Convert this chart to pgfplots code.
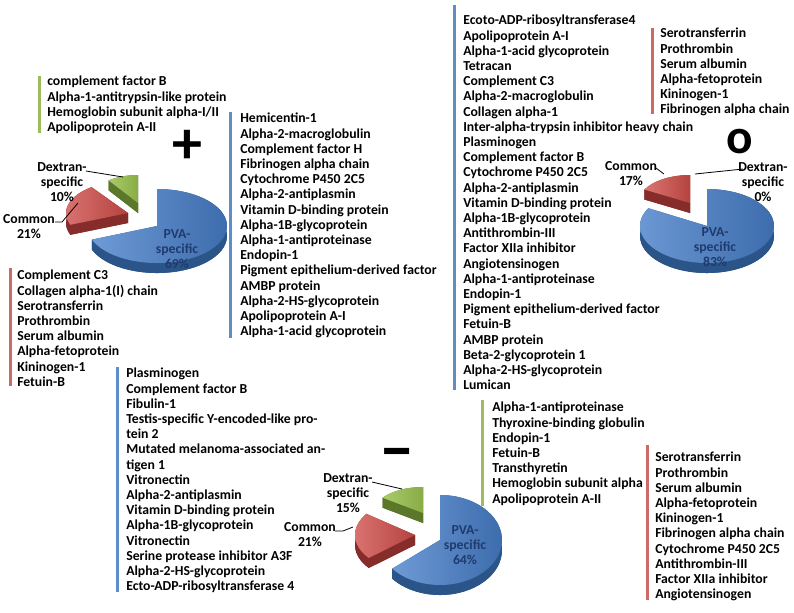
\documentclass[border=0pt]{standalone}
\usepackage{pgfplots}
\pgfplotsset{compat=1.18}
\usepackage{fontspec}
\setmainfont{Carlito}
\definecolor{blueL}{HTML}{6E9BD6}
\definecolor{blueR}{HTML}{3A69AA}
\definecolor{blueS}{HTML}{2B5488}
\definecolor{redL}{HTML}{DC7673}
\definecolor{redR}{HTML}{B5433F}
\definecolor{redS}{HTML}{862D2B}
\definecolor{greenL}{HTML}{AACB6A}
\definecolor{greenR}{HTML}{88AC46}
\definecolor{greenS}{HTML}{5A772A}
\definecolor{barblue}{HTML}{5F8DC8}
\definecolor{barred}{HTML}{CD6A67}
\definecolor{bargreen}{HTML}{9DBD5C}
\definecolor{pvatext}{HTML}{1F3B6E}
\newcommand{\lf}{\fontsize{10.3}{11.4}\selectfont\bfseries}
% cx, cy (downwards), rx, ry, a1, a2, colour prefix
\newcommand{\slice}[7]{%
 \fill[#7S] (axis cs:{#1+#3*cos(#5)},{-#2-10+#4*sin(#5)}) arc[start angle=#5,end angle=#6,x radius=#3,y radius=#4] -- (axis cs:#1,{-#2-10}) -- cycle;
 \fill[#7S] (axis cs:#1,-#2) -- (axis cs:{#1+#3*cos(#5)},{-#2+#4*sin(#5)}) -- (axis cs:{#1+#3*cos(#5)},{-#2-10+#4*sin(#5)}) -- (axis cs:#1,{-#2-10}) -- cycle;
 \fill[#7S] (axis cs:#1,-#2) -- (axis cs:{#1+#3*cos(#6)},{-#2+#4*sin(#6)}) -- (axis cs:{#1+#3*cos(#6)},{-#2-10+#4*sin(#6)}) -- (axis cs:#1,{-#2-10}) -- cycle;
 \fill[#7S] (axis cs:{#1+#3*cos(#5)},{-#2+#4*sin(#5)}) arc[start angle=#5,end angle=#6,x radius=#3,y radius=#4] -- (axis cs:{#1+#3*cos(#6)},{-#2-10+#4*sin(#6)}) arc[start angle=#6,end angle=#5,x radius=#3,y radius=#4] -- cycle;
 \path[left color=#7L,right color=#7R] (axis cs:{#1+#3*cos(#5)},{-#2+#4*sin(#5)}) arc[start angle=#5,end angle=#6,x radius=#3,y radius=#4] -- (axis cs:#1,-#2) -- cycle;
}
\begin{document}
\begin{tikzpicture}[x=0.75pt,y=0.75pt]
\useasboundingbox (0,0) rectangle (794,-612);
\begin{axis}[at={(0,0)},anchor=north west,x=0.75pt,y=0.75pt,
  xmin=0,xmax=794,ymin=-612,ymax=0,hide axis,clip=false,disabledatascaling]
% ---------- list bars ----------
\addplot[bargreen,line width=2.25pt] coordinates {(39,-76) (39,-133)};
\addplot[barblue,line width=2.25pt] coordinates {(230,-112) (230,-338)};
\addplot[barblue,line width=2.25pt] coordinates {(454,-5) (454,-390)};
\addplot[barred,line width=2.25pt] coordinates {(10,-268) (10,-386)};
\addplot[barred,line width=2.25pt] coordinates {(652,-28) (652,-114)};
\addplot[barblue,line width=2.25pt] coordinates {(117,-367) (117,-592)};
\addplot[bargreen,line width=2.25pt] coordinates {(482,-400) (482,-506)};
\addplot[barred,line width=2.25pt] coordinates {(647,-445) (647,-600)};
% ---------- lists ----------
\node[anchor=north west,inner sep=0,align=left,font=\lf] at (axis cs:47,-76) {complement factor B\\Alpha-1-antitrypsin-like protein\\Hemoglobin subunit alpha-I/II\\Apolipoprotein A-II};
\node[anchor=north west,inner sep=0,align=left,font=\lf] at (axis cs:240,-113) {Hemicentin-1\\Alpha-2-macroglobulin\\Complement factor H\\Fibrinogen alpha chain\\Cytochrome P450 2C5\\Alpha-2-antiplasmin\\Vitamin D-binding protein\\Alpha-1B-glycoprotein\\Alpha-1-antiproteinase\\Endopin-1\\Pigment epithelium-derived factor\\AMBP protein\\Alpha-2-HS-glycoprotein\\Apolipoprotein A-I\\Alpha-1-acid glycoprotein};
\node[anchor=north west,inner sep=0,align=left,font=\lf] at (axis cs:463,-15) {Ecoto-ADP-ribosyltransferase4\\Apolipoprotein A-I\\Alpha-1-acid glycoprotein\\Tetracan\\Complement C3\\Alpha-2-macroglobulin\\Collagen alpha-1\\Inter-alpha-trypsin inhibitor heavy chain\\Plasminogen\\Complement factor B\\Cytochrome P450 2C5\\Alpha-2-antiplasmin\\Vitamin D-binding protein\\Alpha-1B-glycoprotein\\Antithrombin-III\\Factor XIIa inhibitor\\Angiotensinogen\\Alpha-1-antiproteinase\\Endopin-1\\Pigment epithelium-derived factor\\Fetuin-B\\AMBP protein\\Beta-2-glycoprotein 1\\Alpha-2-HS-glycoprotein\\Lumican};
\node[anchor=north west,inner sep=0,align=left,font=\lf] at (axis cs:17,-270) {Complement C3\\Collagen alpha-1(I) chain\\Serotransferrin\\Prothrombin\\Serum albumin\\Alpha-fetoprotein\\Kininogen-1\\Fetuin-B};
\node[anchor=north west,inner sep=0,align=left,font=\lf] at (axis cs:660,-28) {Serotransferrin\\Prothrombin\\Serum albumin\\Alpha-fetoprotein\\Kininogen-1\\Fibrinogen alpha chain};
\node[anchor=north west,inner sep=0,align=left,font=\lf] at (axis cs:126,-368) {Plasminogen\\Complement factor B\\Fibulin-1\\Testis-specific Y-encoded-like pro-\\tein 2\\Mutated melanoma-associated an-\\tigen 1\\Vitronectin\\Alpha-2-antiplasmin\\Vitamin D-binding protein\\Alpha-1B-glycoprotein\\Vitronectin\\Serine protease inhibitor A3F\\Alpha-2-HS-glycoprotein\\Ecto-ADP-ribosyltransferase 4};
\node[anchor=north west,inner sep=0,align=left,font=\lf] at (axis cs:492,-402) {Alpha-1-antiproteinase\\Thyroxine-binding globulin\\Endopin-1\\Fetuin-B\\Transthyretin\\Hemoglobin subunit alpha\\Apolipoprotein A-II};
\node[anchor=north west,inner sep=0,align=left,font=\lf] at (axis cs:655,-452) {Serotransferrin\\Prothrombin\\Serum albumin\\Alpha-fetoprotein\\Kininogen-1\\Fibrinogen alpha chain\\Cytochrome P450 2C5\\Antithrombin-III\\Factor XIIa inhibitor\\Angiotensinogen};
% ---------- pie "+" : PVA 69, Common 21, Dextran 10 ----------
\slice{138}{203}{50}{28}{90}{126}{green}
\slice{128}{213}{62}{32}{126}{201.6}{red}
\slice{157}{226}{70}{37}{-158.4}{90}{blue}
% ---------- pie "o" : PVA 83, Common 17, Dextran 0 ----------
\slice{690}{203}{52}{28}{90}{151.2}{red}
\slice{707}{226}{67}{37}{-208.8}{90}{blue}
% ---------- pie "-" : PVA 64, Common 21, Dextran 15 ----------
\slice{423}{513}{50}{26}{90}{144}{green}
\slice{415}{535}{60}{36}{144}{219.6}{red}
\slice{440}{540}{62}{45}{-140.4}{90}{blue}
% ---------- leader lines ----------
\draw[black,line width=0.6pt] (axis cs:86,-171) -- (axis cs:123,-177);
\draw[black,line width=0.6pt] (axis cs:55,-222) -- (axis cs:62,-222) -- (axis cs:78,-203);
\draw[black,line width=0.6pt] (axis cs:656,-168) -- (axis cs:664,-174);
\draw[black,line width=0.6pt] (axis cs:695,-174) -- (axis cs:743,-169);
\draw[black,line width=0.6pt] (axis cs:372,-482) -- (axis cs:402,-489);
\draw[black,line width=0.6pt] (axis cs:335,-531) -- (axis cs:343,-531) -- (axis cs:353,-527);
% ---------- pie labels ----------
\node[anchor=north,inner sep=0,align=center,font=\lf] at (axis cs:62,-162) {Dextran-\\specific\\10\%};
\node[anchor=north,inner sep=0,align=center,font=\lf] at (axis cs:29,-214) {Common\\21\%};
\node[anchor=north,inner sep=0,align=center,font=\lf,text=pvatext] at (axis cs:177,-229) {PVA-\\specific\\69\%};
\node[anchor=north,inner sep=0,align=center,font=\lf] at (axis cs:631,-161) {Common\\17\%};
\node[anchor=north,inner sep=0,align=center,font=\lf] at (axis cs:763,-162) {Dextran-\\specific\\0\%};
\node[anchor=north,inner sep=0,align=center,font=\lf,text=pvatext] at (axis cs:715,-227) {PVA-\\specific\\83\%};
\node[anchor=north,inner sep=0,align=center,font=\lf] at (axis cs:348,-473) {Dextran-\\specific\\15\%};
\node[anchor=north,inner sep=0,align=center,font=\lf] at (axis cs:310,-522) {Common\\21\%};
\node[anchor=north,inner sep=0,align=center,font=\lf,text=pvatext] at (axis cs:465,-525) {PVA-\\specific\\64\%};
% ---------- signs ----------
\node[anchor=base,inner sep=0,font=\fontsize{45}{45}\selectfont\bfseries] at (axis cs:187,-163) {+};
\node[anchor=base,inner sep=0,font=\fontsize{37}{37}\selectfont\bfseries] at (axis cs:740,-153) {o};
\node[anchor=base,inner sep=0,font=\fontsize{53}{53}\selectfont\bfseries] at (axis cs:397,-471) {–};
\end{axis}
\end{tikzpicture}
\end{document}
